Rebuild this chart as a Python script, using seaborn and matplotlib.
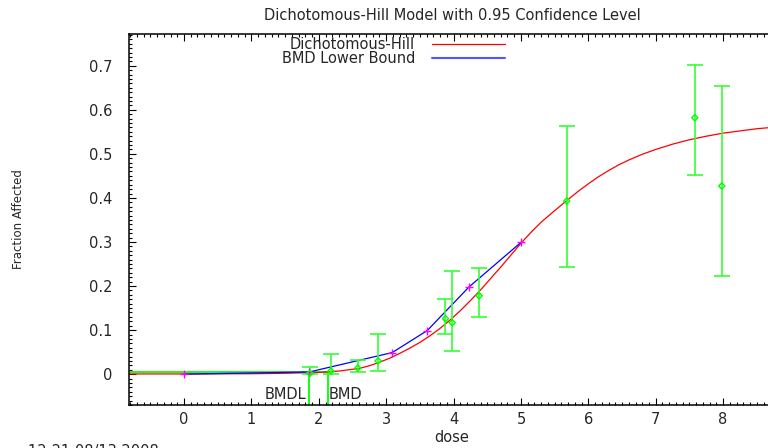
import numpy as np
import pandas as pd
import matplotlib
matplotlib.use("Agg")
import matplotlib.pyplot as plt
from matplotlib.ticker import MultipleLocator
from matplotlib.lines import Line2D
import seaborn as sns

# ---- data ----
dose = [1.87, 2.18, 2.58, 2.88, 3.88, 3.98, 4.38, 5.68, 7.58, 7.98]
frac = [0.002, 0.007, 0.014, 0.030, 0.126, 0.117, 0.178, 0.393, 0.582, 0.427]
ci_low = [0.0, 0.0, 0.005, 0.008, 0.092, 0.052, 0.129, 0.243, 0.453, 0.223]
ci_high = [0.017, 0.045, 0.032, 0.092, 0.170, 0.233, 0.242, 0.563, 0.702, 0.654]

model_x = [-0.82, 0.0, 1.0, 1.5, 2.0, 2.3, 2.45, 2.6, 2.75, 2.9, 3.05, 3.2, 3.35, 3.5,
           3.65, 3.8, 3.95, 4.1, 4.25, 4.4, 4.55, 4.7, 4.85, 5.0, 5.15, 5.3, 5.5,
           5.68, 5.85, 6.0, 6.15, 6.3, 6.45, 6.6, 6.8, 7.0, 7.25, 7.5, 7.75, 8.0,
           8.25, 8.5, 8.8]
model_y = [0.0005, 0.0005, 0.001, 0.002, 0.004, 0.007, 0.010, 0.013, 0.019, 0.027,
           0.036, 0.047, 0.059, 0.072, 0.087, 0.104, 0.123, 0.144, 0.167, 0.191,
           0.217, 0.243, 0.270, 0.297, 0.322, 0.345, 0.371, 0.394, 0.415, 0.432,
           0.448, 0.462, 0.475, 0.486, 0.499, 0.510, 0.522, 0.532, 0.540, 0.547,
           0.552, 0.557, 0.561]

bmdl_x = [0.0, 1.86, 3.09, 3.61, 4.23, 5.0]
bmdl_y = [0.0, 0.005, 0.049, 0.099, 0.198, 0.299]

bmr = 0.005
bmdl = 1.86
bmd = 2.13

title = "Dichotomous-Hill Model with 0.95 Confidence Level"
xlabel = "dose"
ylabel = "Fraction Affected"
stamp = "12:21 08/13 2008"
legend_labels = ["Dichotomous-Hill", "BMD Lower Bound"]

# ---- style ----
sns.set_style("ticks")
plt.rcParams["font.family"] = ["DejaVu Sans"]
FS = 10.5
plt.rcParams["font.size"] = FS

W, H = 768, 448
fig = plt.figure(figsize=(W / 100, H / 100), dpi=100)
ax = fig.add_axes([129 / W, (H - 405) / H, 646 / W, 371 / H])

xmin, xmax = -0.816, 8.77
ymin, ymax = -0.070, 0.772
ax.set_xlim(xmin, xmax)
ax.set_ylim(ymin, ymax)

green = "#00ff00"

# BMR / BMD / BMDL lines
sns.lineplot(x=[xmin, bmd], y=[bmr, bmr], color=green, lw=1.3, ax=ax, estimator=None)
sns.lineplot(x=[bmdl, bmdl], y=[bmr, ymin], color=green, lw=1.3, ax=ax, estimator=None, sort=False)
sns.lineplot(x=[bmd, bmd], y=[bmr, ymin], color=green, lw=1.3, ax=ax, estimator=None, sort=False)

# model curve and BMDL curve
sns.lineplot(x=model_x, y=model_y, color="#ff0000", lw=0.9, ax=ax, estimator=None, sort=False)
sns.lineplot(x=bmdl_x, y=bmdl_y, color="#0000ff", lw=0.9, ax=ax, estimator=None, sort=False)
sns.scatterplot(x=bmdl_x, y=bmdl_y, marker="+", color="#ff00ff", s=36, linewidth=1.0, ax=ax, zorder=5)

# data with confidence intervals
f = np.array(frac)
yerr = np.vstack([f - np.array(ci_low), np.array(ci_high) - f])
ax.errorbar(dose, frac, yerr=yerr, fmt="none", ecolor="#33ff33", elinewidth=1.2,
            capsize=6, capthick=1.2, zorder=4)
sns.scatterplot(x=dose, y=frac, marker="D", s=10, facecolor="none", edgecolor=green,
                linewidth=1.0, ax=ax, zorder=6)

ax.annotate("BMDL", xy=(bmdl, -0.057), xytext=(-2, 0), textcoords="offset points",
            ha="right", va="baseline", fontsize=FS)
ax.annotate("BMD", xy=(bmd, -0.057), xytext=(1, 0), textcoords="offset points",
            ha="left", va="baseline", fontsize=FS)

# axes styling
for s in ax.spines.values():
    s.set_linewidth(1.1)
    s.set_color("black")
ax.xaxis.set_major_locator(MultipleLocator(1))
ax.xaxis.set_minor_locator(MultipleLocator(0.1))
ax.yaxis.set_minor_locator(MultipleLocator(0.01))
ax.set_yticks([0, 0.1, 0.2, 0.3, 0.4, 0.5, 0.6, 0.7])
ax.set_yticklabels(["0", "0.1", "0.2", "0.3", "0.4", "0.5", "0.6", "0.7"])
ax.tick_params(which="both", direction="in", top=True, right=True, width=0.8, color="black")
ax.tick_params(which="major", length=5, labelsize=FS)
ax.tick_params(which="minor", length=2.2)
ax.tick_params(axis="x", which="major", pad=5)
ax.tick_params(axis="y", which="major", pad=12)

ax.set_title(title, fontsize=FS, pad=10)
ax.set_xlabel(xlabel, fontsize=FS, labelpad=2)
ax.set_ylabel(ylabel, fontsize=8.5)
ax.yaxis.set_label_coords((25 - 129) / 646, 0.5)

handles = [Line2D([], [], color="#ff0000", lw=0.9), Line2D([], [], color="#5555ff", lw=1.5)]
ax.legend(handles, legend_labels, loc="upper right", bbox_to_anchor=(505 / W, (H - 37) / H),
          bbox_transform=fig.transFigure, frameon=False, markerfirst=False,
          handlelength=5.0, handletextpad=1.16, labelspacing=-0.05, borderpad=0,
          borderaxespad=0, fontsize=FS)

fig.text(28 / W, (H - 456) / H, stamp, fontsize=FS, va="baseline", ha="left")

fig.savefig("out.png", dpi=100)
